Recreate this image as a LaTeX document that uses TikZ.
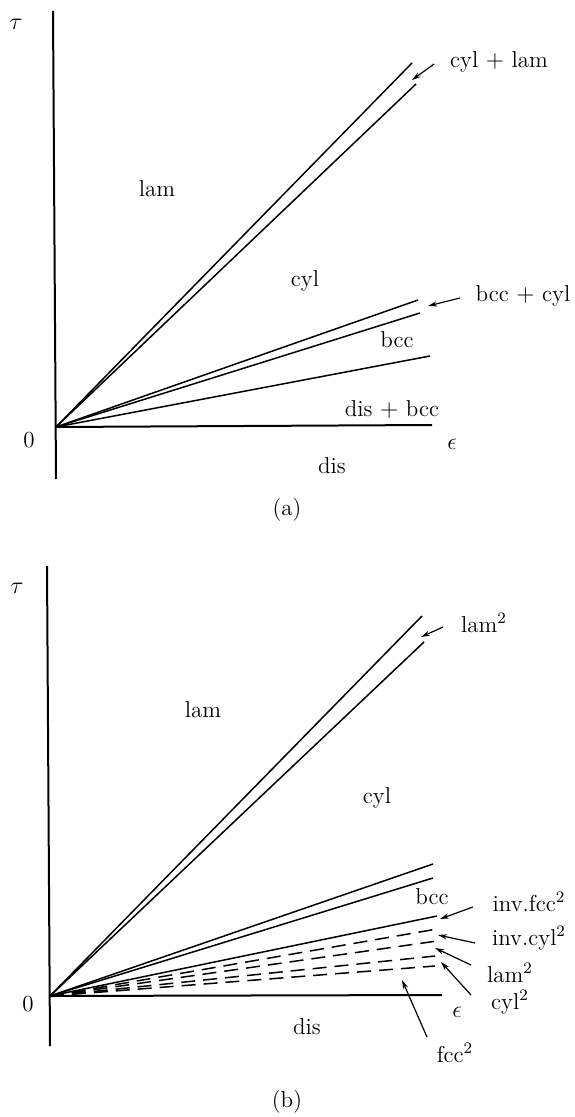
\documentclass[tikz,border=0pt]{standalone}
\usetikzlibrary{arrows.meta}
\begin{document}
\begin{tikzpicture}[x=0.5pt,y=-0.5pt,
  every node/.style={font=\fontsize{11.5}{14}\selectfont, inner sep=0pt},
  ln/.style={line width=0.75pt},
  ax/.style={line width=1pt},
  dsh/.style={line width=0.75pt, dash pattern=on 7pt off 4pt},
  ptr/.style={line width=0.6pt,-{Stealth[length=4.5pt,width=2.6pt]}}]
\useasboundingbox (0,0) rectangle (574,1117);

% ---------------- panel (a) ----------------
\coordinate (Oa) at (56,427);
\coordinate (aTop) at (53,11);
\coordinate (aBot) at (56,479);
\coordinate (aE) at (432,425);
\coordinate (a1) at (412,63);
\coordinate (a2) at (416,84);
\coordinate (a3) at (418,300);
\coordinate (a4) at (420,313);
\coordinate (a5) at (430,356);
\draw[ax] (aTop) -- (aBot);
\draw[ax] (Oa) -- (aE);
\draw[ln] (Oa) -- (a1);
\draw[ln] (Oa) -- (a2);
\draw[ln] (Oa) -- (a3);
\draw[ln] (Oa) -- (a4);
\draw[ln] (Oa) -- (a5);

\node (atau) at (16,24) {$\tau$};
\node (azero) at (29,440) {0};
\node (aeps) at (452,444) {$\epsilon$};
\node (alam) at (157,189) {lam};
\node (acyl) at (305,281) {cyl};
\node (abcc) at (397,340) {bcc};
\node (adisbcc) at (392,409) {dis $+$ bcc};
\node (adis) at (332,466) {dis};
\node (acyllam) at (499,62) {cyl $+$ lam};
\node (abcccyl) at (523,296) {bcc $+$ cyl};
\node (acap) at (287,510) {(a)};

\coordinate (aT1) at (434,64);
\coordinate (aH1) at (412,80);
\coordinate (aT2) at (460,298);
\coordinate (aH2) at (428,306);
\draw[ptr] (aT1) -- (aH1);
\draw[ptr] (aT2) -- (aH2);

% ---------------- panel (b) ----------------
\coordinate (Ob) at (50,996);
\coordinate (bTop) at (47,566);
\coordinate (bBot) at (50,1046);
\coordinate (bE) at (442,995);
\coordinate (b1) at (422,616);
\coordinate (b2) at (424,642);
\coordinate (b3) at (433,864);
\coordinate (b4) at (433,878);
\coordinate (b5) at (437,916);
\coordinate (d1) at (437,929);
\coordinate (d2) at (437,941);
\coordinate (d3) at (435,956);
\coordinate (d4) at (435,966);
\draw[ax] (bTop) -- (bBot);
\draw[ax] (Ob) -- (bE);
\draw[ln] (Ob) -- (b1);
\draw[ln] (Ob) -- (b2);
\draw[ln] (Ob) -- (b3);
\draw[ln] (Ob) -- (b4);
\draw[ln] (Ob) -- (b5);
\draw[dsh] (Ob) -- (d1);
\draw[dsh] (Ob) -- (d2);
\draw[dsh] (Ob) -- (d3);
\draw[dsh] (Ob) -- (d4);

\node (btau) at (17,588) {$\tau$};
\node (bzero) at (28,1004) {0};
\node (beps) at (457,1012) {$\epsilon$};
\node (blam) at (203,710) {lam};
\node (bcyl) at (377,798) {cyl};
\node (bbcc) at (432,897) {bcc};
\node (bdis) at (307,1027) {dis};
\node (blamtop) at (484,623) {lam$^2$};
\node (binvfcc) at (529,902) {inv.fcc$^2$};
\node (binvcyl) at (529,938) {inv.cyl$^2$};
\node (blamsq) at (510,973) {lam$^2$};
\node (bcylsq) at (510,1002) {cyl$^2$};
\node (bfcc) at (455,1053) {fcc$^2$};
\node (bcap) at (287,1102) {(b)};

\coordinate (bT0) at (443,627);
\coordinate (bH0) at (421,637);
\coordinate (bT1) at (473,907);
\coordinate (bH1) at (440,919);
\coordinate (bT2) at (475,943);
\coordinate (bH2) at (438,935);
\coordinate (bT3) at (471,965);
\coordinate (bH3) at (435,948);
\coordinate (bT4) at (471,995);
\coordinate (bH4) at (441,962);
\coordinate (bT5) at (427,1037);
\coordinate (bH5) at (402,980);
\draw[ptr] (bT0) -- (bH0);
\draw[ptr] (bT1) -- (bH1);
\draw[ptr] (bT2) -- (bH2);
\draw[ptr] (bT3) -- (bH3);
\draw[ptr] (bT4) -- (bH4);
\draw[ptr] (bT5) -- (bH5);
\end{tikzpicture}
\end{document}
